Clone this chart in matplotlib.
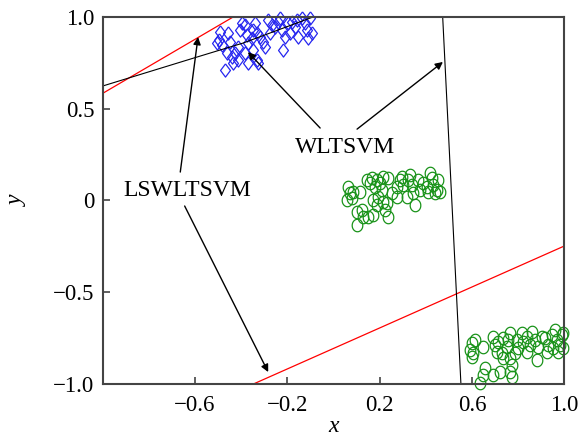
import matplotlib
matplotlib.use('Agg')
import matplotlib.pyplot as plt
import numpy as np

plt.rcParams['font.family'] = ['Liberation Serif', 'DejaVu Serif']

# class 1 (blue diamonds)
blue_x = [-0.492, -0.496, -0.506, -0.485, -0.456, -0.449, -0.463, -0.441, -0.470, -0.434,
          -0.413, -0.398, -0.405, -0.384, -0.377, -0.369, -0.384, -0.369, -0.348, -0.333,
          -0.326, -0.340, -0.333, -0.348, -0.319, -0.304, -0.283, -0.268, -0.275, -0.254,
          -0.239, -0.232, -0.218, -0.210, -0.196, -0.182, -0.189, -0.167, -0.153, -0.138,
          -0.124, -0.117, -0.109, -0.095, -0.102, -0.160, -0.225, -0.297, -0.355, -0.413,
          -0.427]
blue_y = [0.920, 0.875, 0.856, 0.847, 0.911, 0.865, 0.802, 0.784, 0.711, 0.747,
          0.766, 0.965, 0.929, 0.956, 0.902, 0.856, 0.802, 0.747, 0.820, 0.766,
          0.747, 0.965, 0.911, 0.929, 0.893, 0.865, 0.983, 0.956, 0.911, 0.947,
          0.974, 0.993, 0.820, 0.893, 0.965, 0.974, 0.911, 0.947, 0.893, 0.995,
          0.965, 0.929, 0.884, 0.911, 0.993, 0.983, 0.929, 0.838, 0.884, 0.838,
          0.802]

# class 2, middle group (green circles)
mid_x = [0.064, 0.071, 0.057, 0.079, 0.086, 0.115, 0.100, 0.122, 0.129, 0.100,
         0.151, 0.172, 0.158, 0.165, 0.180, 0.187, 0.201, 0.209, 0.194, 0.172,
         0.187, 0.216, 0.230, 0.238, 0.223, 0.238, 0.252, 0.274, 0.288, 0.295,
         0.303, 0.324, 0.331, 0.339, 0.346, 0.353, 0.368, 0.375, 0.389, 0.404,
         0.411, 0.418, 0.425, 0.433, 0.440, 0.447, 0.461, 0.454, 0.317, 0.274,
         0.216, 0.144]
mid_y = [0.075, 0.039, 0.003, 0.012, 0.048, 0.048, -0.061, -0.052, -0.088, -0.134,
         -0.088, -0.079, 0.093, 0.121, 0.075, 0.112, 0.093, 0.057, 0.021, 0.003,
         -0.025, -0.006, -0.015, -0.088, -0.052, 0.121, 0.039, 0.075, 0.112, 0.130,
         0.084, 0.112, 0.139, 0.084, 0.039, -0.025, 0.112, 0.057, 0.093, 0.075,
         0.048, 0.148, 0.121, 0.084, 0.039, 0.057, 0.048, 0.112, 0.021, 0.021,
         0.130, 0.112]

# class 2, lower right group (green circles)
low_x = [0.599, 0.591, 0.606, 0.599, 0.649, 0.693, 0.700, 0.714, 0.736, 0.765,
         0.750, 0.758, 0.729, 0.736, 0.765, 0.772, 0.765, 0.772, 0.721, 0.693,
         0.656, 0.649, 0.635, 0.707, 0.786, 0.801, 0.815, 0.822, 0.837, 0.851,
         0.859, 0.873, 0.887, 0.880, 0.902, 0.916, 0.931, 0.945, 0.952, 0.960,
         0.967, 0.974, 0.981, 0.989, 0.996, 0.995, 0.794, 0.837, 0.923, 0.613]
low_y = [-0.778, -0.815, -0.833, -0.851, -0.797, -0.742, -0.788, -0.769, -0.751, -0.724,
         -0.797, -0.760, -0.833, -0.860, -0.860, -0.897, -0.933, -0.960, -0.933, -0.951,
         -0.915, -0.951, -0.997, -0.824, -0.833, -0.806, -0.724, -0.769, -0.742, -0.788,
         -0.715, -0.760, -0.797, -0.869, -0.742, -0.751, -0.788, -0.733, -0.806, -0.706,
         -0.760, -0.824, -0.788, -0.733, -0.806, -0.724, -0.760, -0.824, -0.824, -0.760]

# separating lines
lsw1_x = [-1.0, -0.435]
lsw1_y = [0.584, 1.0]
lsw2_x = [-0.347, 1.0]
lsw2_y = [-1.0, -0.248]
wl1_x = [-1.0, -0.591, -0.392, -0.089]
wl1_y = [0.624, 0.782, 0.858, 1.0]
wl2_x = [0.473, 0.552]
wl2_y = [1.0, -1.0]

xticks = [-1.0, -0.6, -0.2, 0.2, 0.6, 1.0]
xticklabels = ['', '\u22120.6', '\u22120.2', '0.2', '0.6', '1.0']
yticks = [-1.0, -0.5, 0, 0.5, 1.0]
yticklabels = ['\u22121.0', '\u22120.5', '0', '0.5', '1.0']

# tall-ish marker shapes (the picture is slightly stretched vertically)
t = np.linspace(0, 2 * np.pi, 40)
ellipse = np.column_stack([0.85 * np.cos(t), np.sin(t)])
diamond = [(0, 1), (0.75, 0), (0, -1), (-0.75, 0), (0, 1)]

fig = plt.figure(figsize=(5.86, 4.36), dpi=100)
ax = fig.add_axes([0.1753, 0.1193, 0.7877, 0.8417])

ax.plot(blue_x, blue_y, linestyle='none', marker=diamond, markersize=9.5,
        markerfacecolor='none', markeredgecolor='#2626f0', markeredgewidth=0.9, clip_on=False)
ax.plot(mid_x, mid_y, linestyle='none', marker=ellipse, markersize=9,
        markerfacecolor='none', markeredgecolor='#1a931a', markeredgewidth=0.9, clip_on=False)
ax.plot(low_x, low_y, linestyle='none', marker=ellipse, markersize=9,
        markerfacecolor='none', markeredgecolor='#1a931a', markeredgewidth=0.9, clip_on=False)

ax.plot(lsw1_x, lsw1_y, color='red', lw=0.9)
ax.plot(lsw2_x, lsw2_y, color='red', lw=0.9)
ax.plot(wl1_x, wl1_y, color='black', lw=0.8)
ax.plot(wl2_x, wl2_y, color='black', lw=0.8)

ax.set_xlim(-1, 1)
ax.set_ylim(-1, 1)
ax.set_xticks(xticks)
ax.set_xticklabels(xticklabels)
ax.set_yticks(yticks)
ax.set_yticklabels(yticklabels)
ax.tick_params(direction='in', length=5, width=1.2, color='#444444', labelsize=16.5)
ax.tick_params(axis='x', pad=8)
ax.tick_params(axis='y', pad=6)
for s in ax.spines.values():
    s.set_linewidth(1.5)
    s.set_color('#444444')

ax.set_xlabel('x', fontsize=17, style='italic')
ax.xaxis.set_label_coords(0.5, -0.088)
ax.set_ylabel('y', fontsize=17, style='italic', rotation=90)
ax.yaxis.set_label_coords(-0.162, 0.5)

arr = dict(arrowstyle='-|>', color='black', lw=1.0, mutation_scale=11, shrinkA=0, shrinkB=0)
ax.text(0.05, 0.29, 'WLTSVM', fontsize=17, ha='center', va='center')
ax.annotate('', xy=(-0.371, 0.809), xytext=(-0.058, 0.395), arrowprops=arr)
ax.annotate('', xy=(0.474, 0.755), xytext=(0.102, 0.389), arrowprops=arr)

ax.text(-0.635, 0.057, 'LSWLTSVM', fontsize=17, ha='center', va='center')
ax.annotate('', xy=(-0.587, 0.891), xytext=(-0.664, 0.155), arrowprops=arr)
ax.annotate('', xy=(-0.283, -0.935), xytext=(-0.645, -0.03), arrowprops=arr)

fig.savefig('out.png', dpi=100)
